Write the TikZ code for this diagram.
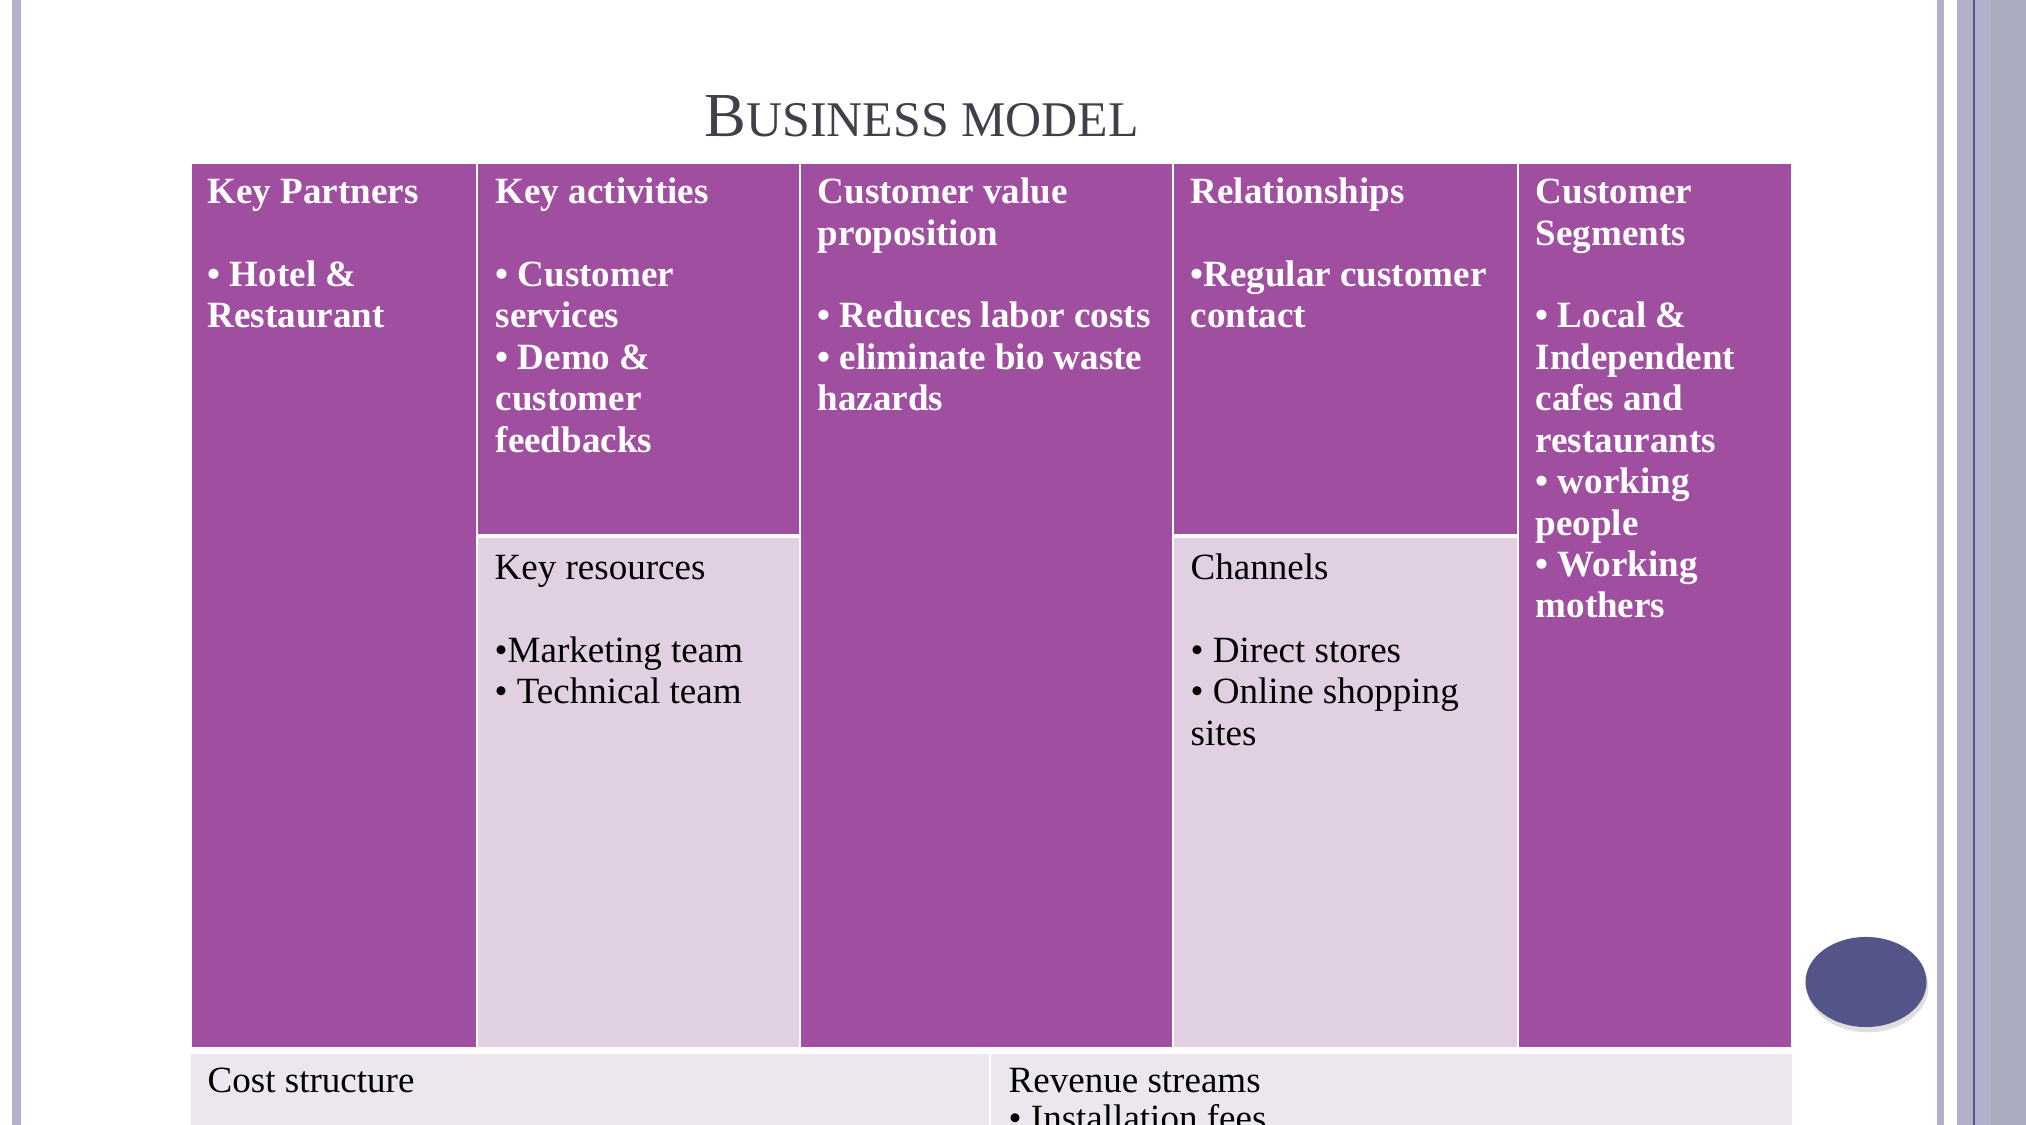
\documentclass[tikz,border=0pt]{standalone}
\usepackage{fontspec}
\setmainfont{Liberation Serif}
\usepackage{tikz}
\usetikzlibrary{shapes.geometric,shadows}

\definecolor{canvas}{HTML}{A04FA0}
\definecolor{soft}{HTML}{E0D0E2}
\definecolor{pale}{HTML}{ECE7EF}
\definecolor{frame}{HTML}{B2B1C9}
\definecolor{framedark}{HTML}{ABABC0}
\definecolor{ink}{HTML}{40404B}
\definecolor{knob}{HTML}{535488}

\begin{document}
\begin{tikzpicture}[x=0.01cm, y=-0.01cm,
  cell/.style={fill=canvas, draw=white, line width=0.5pt},
  softcell/.style={fill=soft, draw=white, line width=0.5pt},
  head/.style={anchor=north west, inner sep=0pt, align=left, text=white,
    font=\bfseries\fontsize{10.53pt}{11.78pt}\selectfont},
  plain/.style={anchor=north west, inner sep=0pt, align=left, text=black,
    font=\fontsize{10.53pt}{11.78pt}\selectfont},
  tight/.style={plain, font=\fontsize{10.53pt}{10.8pt}\selectfont},
  button/.style={ellipse, fill=knob, minimum width=1.21cm, minimum height=0.9cm,
    inner sep=0pt, drop shadow={opacity=0.25, shadow xshift=0.5pt, shadow yshift=-1.5pt}}]
  \useasboundingbox (0,0) rectangle (2026,1125);
  \clip (0,0) rectangle (2026,1125);
  \fill[white] (0,0) rectangle (2026,1125);

  % slide frame
  \fill[frame] (12,0) rectangle (21,1125);
  \fill[frame] (1937,0) rectangle (1944,1125);
  \fill[frame] (1957,0) rectangle (2026,1125);
  \fill[framedark] (1991,0) rectangle (2026,1125);
  \draw[knob, line width=0.4pt] (1974,0) -- (1974,1125);

  % title
  \node[anchor=base west, inner sep=0pt, text=ink] (title) at (704,137)
    {\fontsize{17.8pt}{20pt}\selectfont B\fontsize{14.2pt}{20pt}\selectfont USINESS MODEL};

  % canvas cells
  \path[cell] (191,163) rectangle (477,1048);
  \path[cell] (477,163) rectangle (800,535);
  \path[softcell] (477,537) rectangle (800,1048);
  \path[cell] (800,163) rectangle (1173,1048);
  \path[cell] (1173,163) rectangle (1518,535);
  \path[softcell] (1173,537) rectangle (1518,1048);
  \path[cell] (1518,163) rectangle (1792,1048);
  \fill[pale] (191,1054) rectangle (1792,1140);
  \draw[white, line width=0.5pt] (990,1054) -- (990,1140);

  % texts
  \node[head] (kp) at (207,174) {\strut Key Partners\\[11.78pt]• Hotel \&\\Restaurant};
  \node[head] (ka) at (495,174) {\strut Key activities\\[11.78pt]• Customer\\services\\• Demo \&\\customer\\feedbacks};
  \node[head] (cvp) at (817,174) {\strut Customer value\\proposition\\[11.78pt]• Reduces labor costs\\• eliminate bio waste\\hazards};
  \node[head] (rel) at (1190,174) {\strut Relationships\\[11.78pt]•Regular customer\\contact};
  \node[head] (seg) at (1535,174) {\strut Customer\\Segments\\[11.78pt]• Local \&\\Independent\\cafes and\\restaurants\\• working\\people\\• Working\\mothers};
  \node[plain] (kr) at (494,550) {\strut Key resources\\[11.78pt]•Marketing team\\• Technical team};
  \node[plain] (ch) at (1190,550) {\strut Channels\\[11.78pt]• Direct stores\\• Online shopping\\sites};
  \node[tight] (cost) at (207,1065) {\strut Cost structure};
  \node[tight] (rev) at (1008,1065) {\strut Revenue streams\\• Installation fees};

  \node[button] (btn) at (1866,982) {};
\end{tikzpicture}
\end{document}
